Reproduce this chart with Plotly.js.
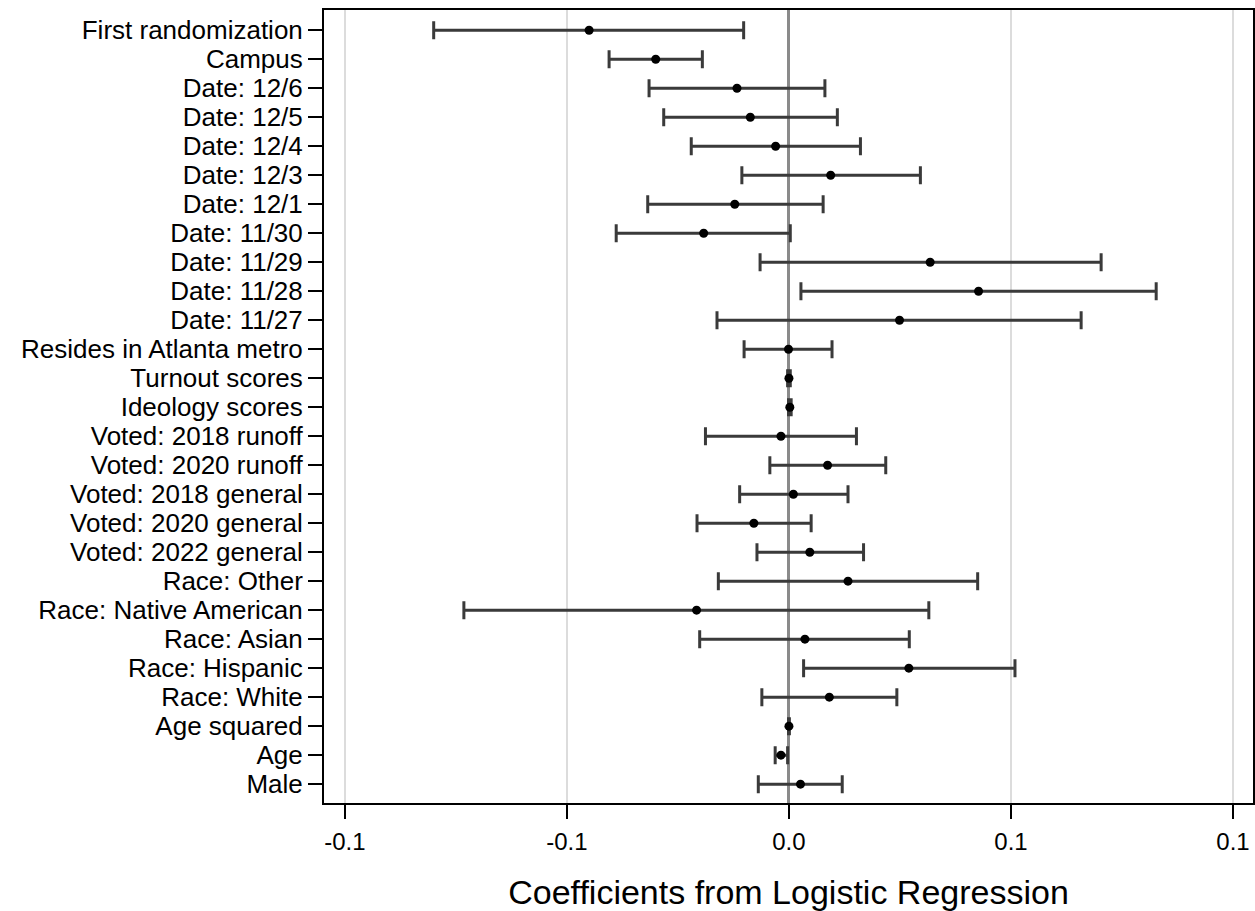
<!DOCTYPE html>
<html>
<head>
<meta charset="utf-8">
<script src="https://cdn.plot.ly/plotly-3.0.1.min.js"></script>
<style>
  html, body { margin: 0; padding: 0; background: #ffffff; }
  #chart { width: 1255px; height: 911px; }
</style>
</head>
<body>
<div id="chart"></div>
<script>
// Variables (top to bottom as displayed)
const variables = [
  "First randomization", "Campus", "Date: 12/6", "Date: 12/5", "Date: 12/4",
  "Date: 12/3", "Date: 12/1", "Date: 11/30", "Date: 11/29", "Date: 11/28",
  "Date: 11/27", "Resides in Atlanta metro", "Turnout scores", "Ideology scores",
  "Voted: 2018 runoff", "Voted: 2020 runoff", "Voted: 2018 general",
  "Voted: 2020 general", "Voted: 2022 general", "Race: Other",
  "Race: Native American", "Race: Asian", "Race: Hispanic", "Race: White",
  "Age squared", "Age", "Male"
];

// Point estimates (coefficients)
const coefficients = [
  -0.0450, -0.0300, -0.0117, -0.0087, -0.0030,
   0.0094, -0.0122, -0.0192,  0.0318,  0.0427,
   0.0249, -0.0001,  0.0000,  0.0002,
  -0.0018,  0.0087,  0.0010, -0.0079,  0.0047,
   0.0133, -0.0208,  0.0036,  0.0270,  0.0091,
   0.0000, -0.0018,  0.0026
];

// Lower bounds of confidence intervals
const lowerCI = [
  -0.0800, -0.0405, -0.0315, -0.0282, -0.0220,
  -0.0106, -0.0318, -0.0389, -0.0065,  0.0027,
  -0.0162, -0.0101, -0.0003, -0.0001,
  -0.0188, -0.0043, -0.0111, -0.0207, -0.0072,
  -0.0159, -0.0732, -0.0201,  0.0033, -0.0061,
  -0.0001, -0.0031, -0.0069
];

// Upper bounds of confidence intervals
const upperCI = [
  -0.0102, -0.0195,  0.0081,  0.0109,  0.0161,
   0.0296,  0.0077,  0.0003,  0.0703,  0.0827,
   0.0658,  0.0097,  0.0003,  0.0005,
   0.0152,  0.0218,  0.0133,  0.0050,  0.0168,
   0.0425,  0.0315,  0.0271,  0.0509,  0.0243,
   0.0001, -0.0003,  0.0120
];

// X-axis tick positions and their printed labels
const xTickValues = [-0.10, -0.05, 0.00, 0.05, 0.10];
const xTickLabels = ["-0.1", "-0.1", "0.0", "0.1", "0.1"];

const plusErr = upperCI.map((u, i) => u - coefficients[i]);
const minusErr = coefficients.map((c, i) => c - lowerCI[i]);

const trace = {
  type: "scatter",
  mode: "markers",
  x: coefficients,
  y: variables,
  marker: { color: "#000000", size: 9 },
  error_x: {
    type: "data",
    symmetric: false,
    array: plusErr,
    arrayminus: minusErr,
    color: "#3a3a3a",
    thickness: 3,
    width: 9
  },
  hoverinfo: "x+y",
  showlegend: false
};

const FONT = "'Liberation Sans', Arial, Helvetica, sans-serif";

const layout = {
  width: 1255,
  height: 911,
  margin: { l: 324, r: 2, t: 10, b: 108, pad: 0 },
  paper_bgcolor: "#ffffff",
  plot_bgcolor: "#ffffff",
  font: { family: FONT, color: "#000000" },
  xaxis: {
    range: [-0.1047, 0.1045],
    tickmode: "array",
    tickvals: xTickValues,
    ticktext: xTickLabels,
    ticks: "outside",
    ticklen: 14,
    tickwidth: 2,
    tickcolor: "#000000",
    tickfont: { family: FONT, size: 24, color: "#000000" },
    ticklabelstandoff: 2,
    showgrid: true,
    gridcolor: "#dcdcdc",
    gridwidth: 2,
    zeroline: true,
    zerolinecolor: "#8a8a8a",
    zerolinewidth: 3,
    showline: true,
    linecolor: "#000000",
    linewidth: 2,
    mirror: true,
    automargin: false,
    title: {
      text: "Coefficients from Logistic Regression",
      font: { family: FONT, size: 34, color: "#000000" },
      standoff: 32
    }
  },
  yaxis: {
    type: "category",
    categoryorder: "array",
    categoryarray: variables,
    tickmode: "array",
    tickvals: variables,
    ticktext: variables,
    range: [26.65, -0.7],
    ticks: "outside",
    ticklen: 14,
    tickwidth: 2,
    tickcolor: "#000000",
    tickfont: { family: FONT, size: 26, color: "#000000" },
    ticklabelstandoff: 0,
    showgrid: false,
    zeroline: false,
    showline: true,
    linecolor: "#000000",
    linewidth: 2,
    mirror: true,
    automargin: false
  }
};

Plotly.newPlot("chart", [trace], layout, { displayModeBar: false, staticPlot: true });
</script>
</body>
</html>
